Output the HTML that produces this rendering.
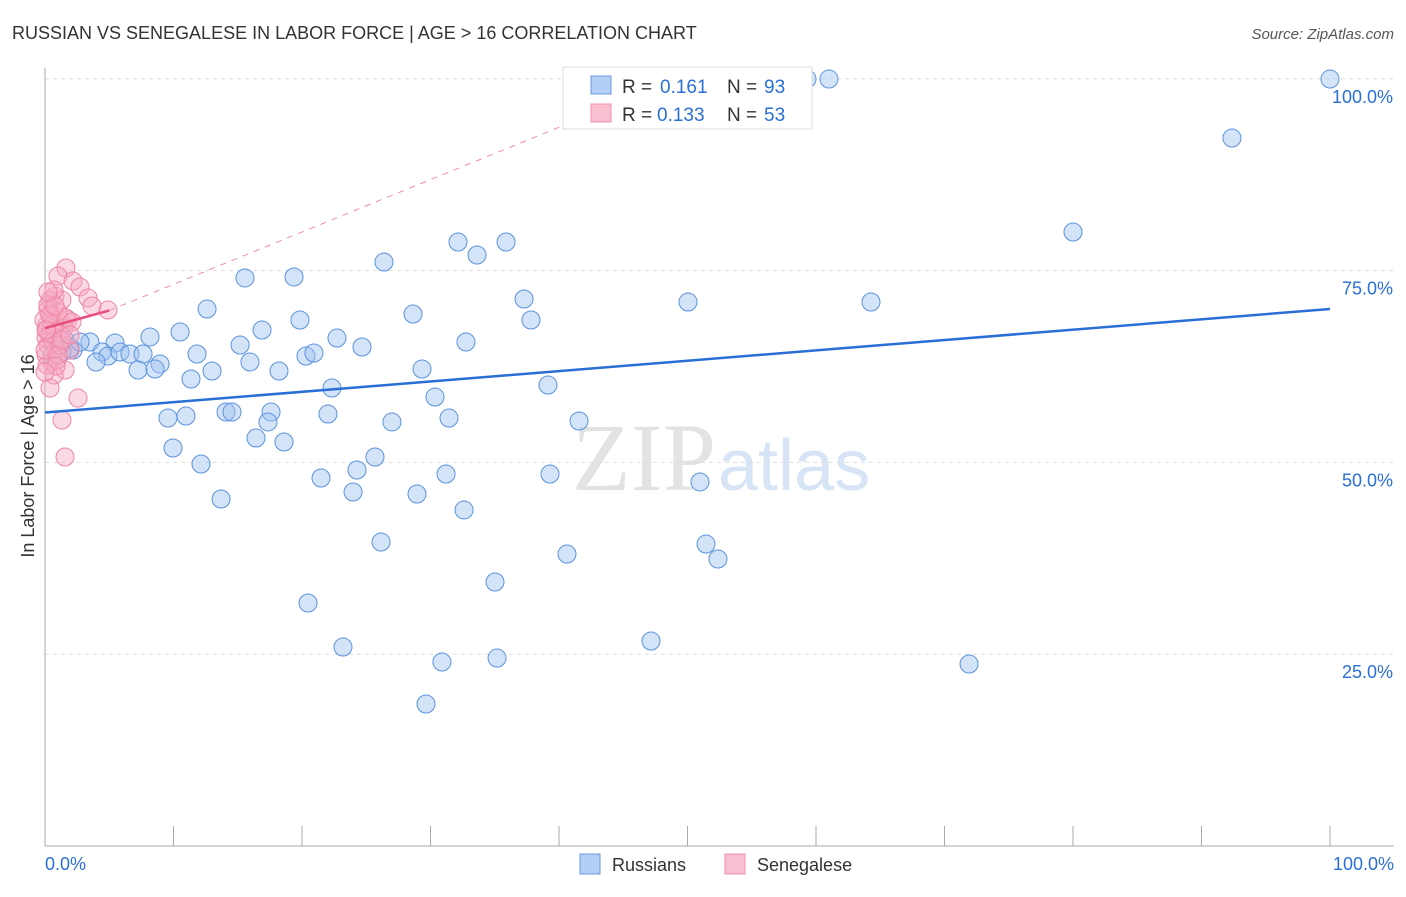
<!DOCTYPE html>
<html><head><meta charset="utf-8"><style>
body{margin:0;background:#fff;font-family:"Liberation Sans",sans-serif}
</style></head><body>
<svg id="c" width="1406" height="892" xmlns="http://www.w3.org/2000/svg">
<text x="12" y="39" font-size="18" fill="#333">RUSSIAN VS SENEGALESE IN LABOR FORCE | AGE &gt; 16 CORRELATION CHART</text>
<text x="1394" y="39" font-size="15" fill="#555" font-style="italic" text-anchor="end">Source: ZipAtlas.com</text>
<text x="716" y="490" font-size="96" fill="#e3e3e3" text-anchor="end" font-family="Liberation Serif">ZIP</text>
<text x="718" y="490" font-size="72" fill="#d6e4f5">atlas</text>
<g id="grid"></g><g id="axes"></g><g id="lines0"></g><g id="pts"></g><g id="lines"></g>
<text transform="translate(34,456) rotate(-90)" font-size="18" fill="#333" text-anchor="middle">In Labor Force | Age &gt; 16</text>
<g>
<rect x="563" y="67" width="249" height="62" fill="#fff" stroke="#ddd"/>
<rect x="591" y="76" width="20" height="18" fill="#b3cff5" stroke="#6a9ae0"/>
<rect x="591" y="104" width="20" height="18" fill="#f9bfd0" stroke="#ee90ab"/>
<text x="622" y="93" font-size="19" fill="#333">R =</text><text x="660" y="93" font-size="19" fill="#2a6fd6">0.161</text>
<text x="727" y="93" font-size="19" fill="#333">N =</text><text x="764" y="93" font-size="19" fill="#2a6fd6">93</text>
<text x="622" y="121" font-size="19" fill="#333">R =</text><text x="657" y="121" font-size="19" fill="#2a6fd6">0.133</text>
<text x="727" y="121" font-size="19" fill="#333">N =</text><text x="764" y="121" font-size="19" fill="#2a6fd6">53</text>
</g>
<g>
<rect x="580" y="854" width="20" height="20" fill="#b3cff5" stroke="#6a9ae0"/>
<text x="612" y="871" font-size="18" fill="#333">Russians</text>
<rect x="725" y="854" width="20" height="20" fill="#f9bfd0" stroke="#ee90ab"/>
<text x="757" y="871" font-size="18" fill="#333">Senegalese</text>
</g>
</svg>
<script>
const yTicks=[25,50,75,100];
const yTickLabels=["25.0%","50.0%","75.0%","100.0%"];
const xTickLabels=["0.0%","100.0%"];
const blueTrend=[[0,56.5],[100,70]];
const pinkTrend=[[0,67.5],[5,69.8]];
const pinkDashEnd=[50,100.5];
const bluePx=[[807,79],[829,79],[1330,79],[1232,138],[1073,232],[871,302],[688,302],[458,242],[477,255],[506,242],[384,262],[245,278],[294,277],[207,309],[262,330],[300,320],[413,314],[524,299],[531,320],[337,338],[466,342],[362,347],[150,337],[180,332],[115,343],[90,342],[65,340],[73,350],[102,352],[108,356],[120,352],[130,354],[143,354],[160,364],[138,370],[155,369],[96,362],[197,354],[212,371],[191,379],[240,345],[250,362],[279,371],[306,356],[314,353],[422,369],[332,388],[548,385],[435,397],[226,412],[232,412],[271,412],[328,414],[392,422],[449,418],[579,421],[168,418],[186,416],[268,422],[256,438],[284,442],[173,448],[201,464],[375,457],[357,470],[446,474],[550,474],[700,482],[321,478],[353,492],[417,494],[221,499],[464,510],[381,542],[567,554],[706,544],[718,559],[495,582],[308,603],[651,641],[343,647],[442,662],[497,658],[969,664],[426,704],[58,338],[70,348],[55,345],[62,352],[80,342],[52,355]];
const pinkPx=[[66,268],[58,276],[73,281],[80,287],[55,296],[88,298],[92,306],[108,310],[50,300],[48,310],[52,318],[60,320],[68,320],[47,325],[55,330],[46,338],[60,338],[48,345],[56,350],[70,350],[46,355],[52,362],[65,370],[54,375],[50,388],[78,398],[62,420],[65,457],[47,330],[50,335],[53,342],[58,312],[44,320],[62,300],[54,290],[48,305],[57,360],[47,365],[45,350],[52,325],[64,328],[60,345],[58,355],[50,315],[46,330],[66,318],[72,322],[55,306],[48,292],[62,340],[70,335],[56,366],[45,372]];
const blueX=bluePx.map(p=>+((p[0]-45)/12.85).toFixed(2));
const blueY=bluePx.map(p=>+((846-p[1])/7.672).toFixed(2));
const pinkX=pinkPx.map(p=>+((p[0]-45)/12.85).toFixed(2));
const pinkY=pinkPx.map(p=>+((846-p[1])/7.672).toFixed(2));
const NS="http://www.w3.org/2000/svg";
const X=v=>45+v*12.85, Y=v=>846-v*7.672;
function mk(t,a,p){const e=document.createElementNS(NS,t);for(const k in a)e.setAttribute(k,a[k]);p.appendChild(e);return e;}
const grid=document.getElementById('grid'),axes=document.getElementById('axes'),pts=document.getElementById('pts'),lines=document.getElementById('lines'),lines0=document.getElementById('lines0');
yTicks.forEach((t,i)=>{
 const l=mk('line',{x1:45,x2:1394,y1:Y(t),y2:Y(t),stroke:'#ddd','stroke-dasharray':'4,4'},grid);
 
 
 const tx=mk('text',{x:1393,y:Y(t)+24,'font-size':18,fill:'#2a6fd6','text-anchor':'end'},axes);
 tx.textContent=yTickLabels[i];
 
 
});
const ax=mk('line',{x1:45,x2:45,y1:68,y2:846,stroke:'#aaa'},axes);


const bx=mk('line',{x1:45,x2:1394,y1:846,y2:846,stroke:'#aaa'},axes);


for(let i=1;i<=10;i++){const t=mk('line',{x1:X(i*10),x2:X(i*10),y1:826,y2:846,stroke:'#aaa'},axes);
 
 }
[[0,'start',45],[100,'end',1394]].forEach((d,i)=>{const t=mk('text',{x:d[2],y:870,'font-size':18,fill:'#2a6fd6','text-anchor':d[1]},axes);t.textContent=xTickLabels[i];
 
 });
const pd=mk('line',{x1:X(pinkTrend[1][0]),y1:Y(pinkTrend[1][1]),x2:X(pinkDashEnd[0]),y2:Y(pinkDashEnd[1]),stroke:'#f08aa8','stroke-width':1,'stroke-dasharray':'6,6'},lines0);


blueX.forEach((x,i)=>{const c=mk('circle',{cx:X(x),cy:Y(blueY[i]),r:9,fill:'rgba(160,195,240,0.45)',stroke:'#5b92de','stroke-width':1},pts);
 
 });
pinkX.forEach((x,i)=>{const c=mk('circle',{cx:X(x),cy:Y(pinkY[i]),r:9,fill:'rgba(246,170,195,0.45)',stroke:'#ee85a5','stroke-width':1},pts);
 
 });
const pl=mk('line',{x1:X(pinkTrend[0][0]),y1:Y(pinkTrend[0][1]),x2:X(pinkTrend[1][0]),y2:Y(pinkTrend[1][1]),stroke:'#e8507e','stroke-width':2.5},lines);


const bl=mk('line',{x1:X(blueTrend[0][0]),y1:Y(blueTrend[0][1]),x2:X(blueTrend[1][0]),y2:Y(blueTrend[1][1]),stroke:'#2a6fd6','stroke-width':2.5},lines);


</script>
</body></html>
